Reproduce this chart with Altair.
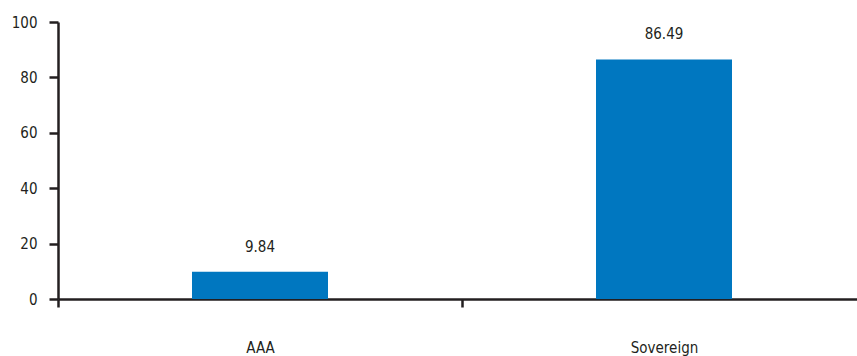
import altair as alt
import pandas as pd

categories = ["AAA", "Sovereign"]
values = [9.84, 86.49]
labels = ["9.84", "86.49"]

df = pd.DataFrame({"cat": categories, "val": values, "lab": labels})

FONT = "DejaVu Sans Condensed, Roboto Condensed, Roboto, sans-serif"

x = alt.X("cat:N", sort=categories, title=None,
          scale=alt.Scale(range=[0, 808], paddingInner=0, paddingOuter=0),
          axis=alt.Axis(labelAngle=0, tickBand="extent", tickSize=8, tickWidth=2.5,
                        tickColor="#231f20", domainColor="#231f20", domainWidth=2.5,
                        labelPadding=33, labelFontSize=15, labelColor="#231f20",
                        labelFont=FONT, grid=False))
y = alt.Y("val:Q", title=None,
          scale=alt.Scale(domain=[0, 100], nice=False),
          axis=alt.Axis(values=[0, 20, 40, 60, 80, 100], grid=False, tickSize=9,
                        tickWidth=2.5, tickColor="#231f20", domainColor="#231f20",
                        domainWidth=2.5, labelPadding=12, labelFontSize=15,
                        labelColor="#231f20", labelFont=FONT))

bars = alt.Chart(df).mark_bar(color="#0077c0", width=136).encode(x=x, y=y)
text = alt.Chart(df).mark_text(dy=-25, fontSize=15, font=FONT, color="#231f20").encode(
    x=alt.X("cat:N", sort=categories), y="val:Q", text="lab:N")

chart = (bars + text).properties(
    width=799, height=277,
    background="white",
    autosize=alt.AutoSizeParams(type="none"),
    padding={"left": 58, "top": 22, "right": 0, "bottom": 57},
).configure_axis(grid=False).configure_view(stroke=None)

chart.save("out.html", embed_options={"renderer": "svg", "actions": False})
